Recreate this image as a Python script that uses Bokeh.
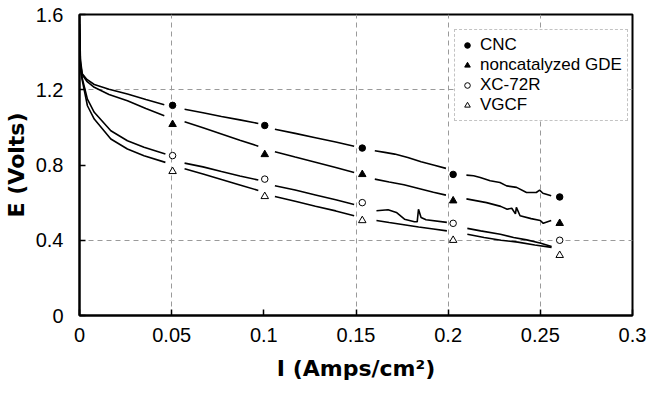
from bokeh.plotting import figure
from bokeh.models import Legend, LegendItem, FixedTicker, Range1d, PrintfTickFormatter
from bokeh.embed import file_html
from bokeh.resources import INLINE

NaN = float("nan")

# ---- ticks / grid ----
x_ticks = [0, 0.05, 0.1, 0.15, 0.2, 0.25, 0.3]
x_tick_labels = ["0", "0.05", "0.1", "0.15", "0.2", "0.25", "0.3"]
y_ticks = [0, 0.4, 0.8, 1.2, 1.6]
y_tick_labels = ["0", "0.4", "0.8", "1.2", "1.6"]
x_grid = [0.05, 0.15, 0.2, 0.25]
y_grid = [0.4, 1.2]

series_names = ["CNC", "noncatalyzed GDE", "XC-72R", "VGCF"]

# ---- marker data ----
marker_x = [0.0505, 0.1005, 0.1534, 0.2027, 0.2605]
cnc_markers = [1.117, 1.01, 0.89, 0.75, 0.63]
noncat_markers = [1.016, 0.856, 0.75, 0.61, 0.49]
xc_markers = [0.85, 0.725, 0.60, 0.49, 0.40]
vgcf_markers = [0.766, 0.633, 0.505, 0.40, 0.32]

# ---- polarization curves (segments separated by NaN) ----
cnc_x = [0, 0.0005, 0.0015, 0.004, 0.008, 0.016, 0.026, 0.036, 0.046, NaN,
         0.057, 0.067, 0.077, 0.087, 0.097, NaN,
         0.106, 0.117, 0.128, 0.139, 0.149, NaN,
         0.1602, 0.1656, 0.171, 0.1781, 0.1853, 0.1925, 0.1988, NaN,
         0.2099, 0.2138, 0.2174, 0.2228, 0.2281, 0.2317, 0.2371, 0.2425, 0.2478, 0.2496, 0.2514, 0.2559]
cnc_y = [1.59, 1.36, 1.285, 1.255, 1.228, 1.203, 1.177, 1.148, 1.12, NaN,
         1.096, 1.078, 1.058, 1.04, 1.021, NaN,
         0.99, 0.968, 0.945, 0.922, 0.90, NaN,
         0.876, 0.867, 0.858, 0.840, 0.817, 0.799, 0.782, NaN,
         0.746, 0.743, 0.734, 0.716, 0.707, 0.689, 0.681, 0.654, 0.654, 0.666, 0.65, 0.636]

noncat_x = [0, 0.0005, 0.0015, 0.004, 0.008, 0.016, 0.026, 0.036, 0.046, NaN,
            0.057, 0.067, 0.077, 0.087, 0.097, NaN,
            0.106, 0.117, 0.128, 0.139, 0.149, NaN,
            0.1602, 0.168, 0.176, 0.184, 0.192, 0.1988, NaN,
            0.2099, 0.2208, 0.2285, 0.232, 0.2345, 0.2365, 0.237, 0.239, 0.245, 0.25, 0.2516, 0.2559]
noncat_y = [1.55, 1.34, 1.28, 1.245, 1.213, 1.175, 1.142, 1.10, 1.062, NaN,
            1.03, 0.998, 0.965, 0.932, 0.90, NaN,
            0.87, 0.842, 0.815, 0.787, 0.76, NaN,
            0.725, 0.71, 0.695, 0.675, 0.655, 0.64, NaN,
            0.62, 0.60, 0.58, 0.565, 0.57, 0.54, 0.575, 0.53, 0.515, 0.505, 0.49, 0.505]

xc_x = [0, 0.0005, 0.0015, 0.0043, 0.008, 0.017, 0.026, 0.035, 0.0466, NaN,
        0.057, 0.067, 0.077, 0.087, 0.097, NaN,
        0.106, 0.117, 0.128, 0.139, 0.149, NaN,
        0.1611, 0.1674, 0.1719, 0.1763, 0.1817, 0.1832, 0.1839, 0.1853, 0.188, 0.1993, NaN,
        0.2104, 0.2176, 0.2283, 0.2355, 0.2426, 0.2498, 0.2561]
xc_y = [1.52, 1.32, 1.26, 1.15, 1.08, 0.982, 0.929, 0.894, 0.858, NaN,
        0.81, 0.79, 0.765, 0.742, 0.72, NaN,
        0.69, 0.667, 0.641, 0.615, 0.59, NaN,
        0.557, 0.562, 0.548, 0.512, 0.498, 0.498, 0.565, 0.521, 0.509, 0.495, NaN,
        0.463, 0.45, 0.432, 0.415, 0.402, 0.385, 0.367]

vgcf_x = [0, 0.0005, 0.0015, 0.0043, 0.008, 0.017, 0.026, 0.035, 0.0466, NaN,
          0.057, 0.067, 0.077, 0.087, 0.097, NaN,
          0.106, 0.117, 0.128, 0.139, 0.149, NaN,
          0.1611, 0.168, 0.176, 0.184, 0.192, 0.1993, NaN,
          0.2104, 0.2195, 0.2287, 0.2378, 0.247, 0.2561]
vgcf_y = [1.5, 1.31, 1.25, 1.115, 1.044, 0.938, 0.885, 0.849, 0.814, NaN,
          0.78, 0.752, 0.723, 0.694, 0.665, NaN,
          0.633, 0.607, 0.581, 0.556, 0.53, NaN,
          0.505, 0.494, 0.482, 0.47, 0.46, 0.45, NaN,
          0.432, 0.415, 0.40, 0.39, 0.375, 0.362]

p = figure(width=647, height=387,
           x_range=Range1d(0, 0.3), y_range=Range1d(0, 1.6),
           output_backend="svg", toolbar_location=None,
           min_border_left=74, min_border_right=15,
           min_border_top=14, min_border_bottom=72)

p.background_fill_color = "white"
p.border_fill_color = "white"
p.outline_line_color = "black"
p.outline_line_width = 2

# grid
p.xgrid.ticker = FixedTicker(ticks=x_grid)
p.ygrid.ticker = FixedTicker(ticks=y_grid)
for g in (p.xgrid, p.ygrid):
    g.grid_line_color = "#9a9a9a"
    g.grid_line_dash = "5 4"
    g.grid_line_width = 1

# axes
p.xaxis.ticker = FixedTicker(ticks=x_ticks)
p.yaxis.ticker = FixedTicker(ticks=y_ticks)
p.xaxis.formatter = PrintfTickFormatter(format="%g")
p.yaxis.formatter = PrintfTickFormatter(format="%g")
p.xaxis.major_label_overrides = dict(zip(x_ticks, x_tick_labels))
p.yaxis.major_label_overrides = dict(zip(y_ticks, y_tick_labels))
p.xaxis.axis_label = "I (Amps/cm²)"
p.yaxis.axis_label = "E (Volts)"
for ax in (p.xaxis, p.yaxis):
    ax.axis_line_color = "black"
    ax.axis_line_width = 2
    ax.major_tick_in = 6
    ax.major_tick_out = 0
    ax.major_tick_line_width = 1.5
    ax.major_tick_line_color = "black"
    ax.minor_tick_line_color = None
    ax.major_label_text_font = "Liberation Sans"
    ax.major_label_text_font_size = "20px"
    ax.major_label_text_color = "black"
    ax.axis_label_text_font = "DejaVu Sans"
    ax.axis_label_text_font_style = "bold"
    ax.axis_label_text_font_size = "22px"
    ax.axis_label_text_color = "black"
p.xaxis.major_label_standoff = 12
p.xaxis.axis_label_standoff = 11
p.yaxis.major_label_standoff = 16
p.yaxis.axis_label_standoff = 4

# curves
for xs, ys in ((cnc_x, cnc_y), (noncat_x, noncat_y), (xc_x, xc_y), (vgcf_x, vgcf_y)):
    p.line(xs, ys, line_color="black", line_width=1.6)

# markers
r_cnc = p.scatter(marker_x, cnc_markers, marker="circle", size=6.5,
                  fill_color="black", line_color="black")
r_non = p.scatter(marker_x, noncat_markers, marker="triangle", size=7.5,
                  fill_color="black", line_color="black")
r_xc = p.scatter(marker_x, xc_markers, marker="circle", size=6.5,
                 fill_color="white", line_color="black", line_width=1)
r_vg = p.scatter(marker_x, vgcf_markers, marker="triangle", size=7.5,
                 fill_color="white", line_color="black", line_width=1)

legend = Legend(items=[LegendItem(label=n, renderers=[r])
                       for n, r in zip(series_names, (r_cnc, r_non, r_xc, r_vg))],
                location=(375, 194))
legend.border_line_color = "#888888"
legend.border_line_dash = "1 2"
legend.border_line_width = 1
legend.background_fill_color = "white"
legend.background_fill_alpha = 1
legend.label_text_font = "Liberation Sans"
legend.label_text_font_size = "17px"
legend.label_text_color = "black"
legend.glyph_width = 14
legend.glyph_height = 20
legend.label_height = 20
legend.spacing = 0
legend.padding = 5
legend.margin = 0
legend.label_standoff = 6
p.add_layout(legend)

open("out.html", "w").write(file_html(p, INLINE))
